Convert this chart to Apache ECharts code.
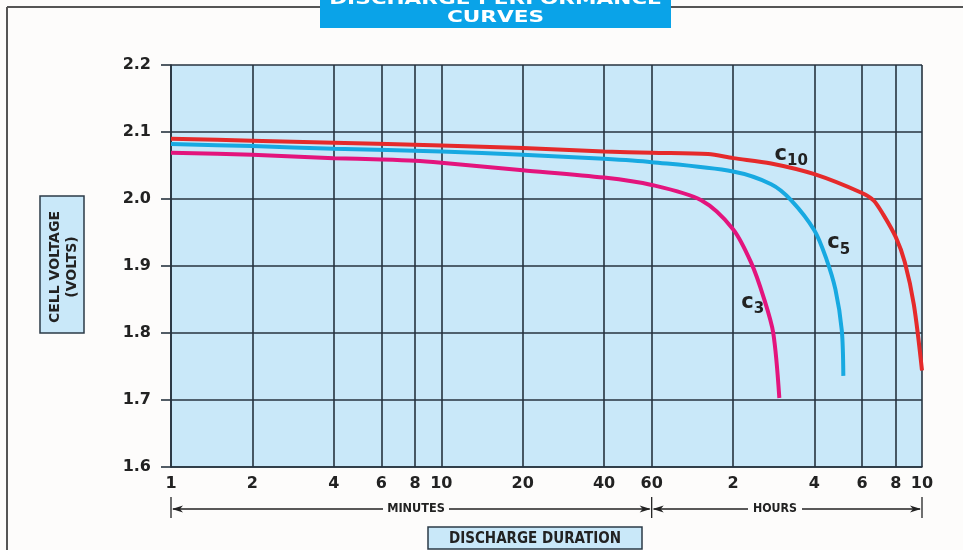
<!DOCTYPE html>
<html>
<head>
<meta charset="utf-8">
<script src="https://cdn.jsdelivr.net/npm/echarts@6/dist/echarts.min.js"></script>
<style>
html,body{margin:0;padding:0;background:#fdfcfb;}
#chart{width:963px;height:550px;}
</style>
</head>
<body>
<div id="chart"></div>
<script>
// ---- data (x in minutes, y in volts) ----
const xTickMinutes = [1, 2, 4, 6, 8, 10, 20, 40, 60, 120, 240, 360, 480, 600];
const xTickLabels  = ['1','2','4','6','8','10','20','40','60','2','4','6','8','10'];
const yMin = 1.6, yMax = 2.2, yStep = 0.1;

const c10Minutes = [1, 2, 4, 10, 20, 40, 60, 97, 120, 166, 240, 360, 397, 431, 480, 518, 560, 600];
const c10Volts   = [2.090, 2.087, 2.084, 2.080, 2.076, 2.071, 2.069, 2.067, 2.061, 2.053, 2.037, 2.009, 1.998, 1.977, 1.943, 1.906, 1.842, 1.744];

const c5Minutes = [1, 2, 4, 10, 20, 40, 60, 120, 166, 197, 240, 266, 287, 303, 307];
const c5Volts   = [2.082, 2.079, 2.075, 2.071, 2.066, 2.060, 2.055, 2.041, 2.022, 1.998, 1.953, 1.910, 1.865, 1.804, 1.736];

const c3Minutes = [1, 2, 4, 6, 8, 10, 20, 40, 60, 91.5, 120, 140, 156, 169, 178];
const c3Volts   = [2.069, 2.066, 2.061, 2.059, 2.057, 2.054, 2.043, 2.032, 2.021, 1.998, 1.955, 1.905, 1.852, 1.800, 1.703];

const curveNames  = ['C10', 'C5', 'C3'];
const curveSubs   = ['10', '5', '3'];
const labelMinutes = [197, 295, 142];
const labelVolts   = [2.066, 1.934, 1.845];

const titleLines = ['DISCHARGE PERFORMANCE', 'CURVES'];
const yTitleLines = ['CELL VOLTAGE', '(VOLTS)'];
const xTitle = 'DISCHARGE DURATION';
const minutesText = 'MINUTES';
const hoursText = 'HOURS';

// ---- build ----
const L = Math.log10;
const toPts = (xs, ys) => xs.map((m, i) => [L(m), ys[i]]);
const colors = ['#e52a2b', '#17a9e1', '#e3147d'];
const gridColor = '#26333f';
const font = '"DejaVu Sans", sans-serif';
const seriesData = [toPts(c10Minutes, c10Volts), toPts(c5Minutes, c5Volts), toPts(c3Minutes, c3Volts)];

const chart = echarts.init(document.getElementById('chart'));

const series = seriesData.map((d, i) => ({
  name: curveNames[i],
  type: 'line',
  data: d,
  smooth: 0.3,
  showSymbol: false,
  symbol: 'none',
  lineStyle: { color: colors[i], width: 4 },
  itemStyle: { color: colors[i] },
  z: 3,
  markPoint: {
    symbol: 'circle',
    symbolSize: 1,
    itemStyle: { color: 'rgba(0,0,0,0)' },
    label: {
      show: true,
      position: 'inside',
      formatter: '{a|c}{b|' + curveSubs[i] + '}',
      rich: {
        a: { fontFamily: font, fontWeight: 'bold', fontSize: 21, color: '#222', lineHeight: 28, verticalAlign: 'bottom', padding: [0, 0, 4, 0] },
        b: { fontFamily: font, fontWeight: 'bold', fontSize: 15, color: '#222', lineHeight: 28, verticalAlign: 'bottom' }
      }
    },
    data: [{ coord: [L(labelMinutes[i]), labelVolts[i]] }]
  }
}));

const tickLog = xTickMinutes.map(L);

chart.setOption({
  backgroundColor: '#fdfcfb',
  animation: false,
  grid: { left: 171, right: 41, top: 65, bottom: 83, show: true, backgroundColor: '#c9e8f9', borderWidth: 0 },
  xAxis: {
    type: 'value',
    min: 0,
    max: L(600),
    axisLine: { show: true, lineStyle: { color: gridColor, width: 1.6 } },
    axisTick: { show: false, customValues: tickLog },
    splitLine: { show: true, lineStyle: { color: gridColor, width: 1.6 } },
    axisLabel: {
      customValues: tickLog,
      margin: 9,
      color: '#222',
      fontFamily: font,
      fontWeight: 'bold',
      fontSize: 16,
      formatter: function (v) {
        let best = 0, bd = Infinity;
        tickLog.forEach((t, k) => { const d = Math.abs(t - v); if (d < bd) { bd = d; best = k; } });
        return xTickLabels[best];
      }
    }
  },
  yAxis: {
    type: 'value',
    min: yMin,
    max: yMax,
    interval: yStep,
    axisLine: { show: true, lineStyle: { color: gridColor, width: 1.6 } },
    axisTick: { show: true, inside: false, length: 10, lineStyle: { color: gridColor, width: 1.6 } },
    splitLine: { show: true, lineStyle: { color: gridColor, width: 1.6 } },
    axisLabel: {
      margin: 20,
      color: '#222',
      fontFamily: font,
      fontWeight: 'bold',
      fontSize: 16,
      formatter: v => v.toFixed(1)
    }
  },
  series: series
});

// ---- decorations positioned from axis values ----
const px = (m, v) => chart.convertToPixel({ gridIndex: 0 }, [L(m), v]);
const p1 = px(1, yMin), p60 = px(60, yMin), p600 = px(600, yMin);
const arrowY = 509;
const lineStyle = { stroke: '#222', lineWidth: 1.3 };
const g = [];

// outer frame
g.push({ type: 'line', shape: { x1: 7, y1: 7, x2: 7, y2: 550 }, style: { stroke: '#555', lineWidth: 2 } });
g.push({ type: 'line', shape: { x1: 7, y1: 7, x2: 963, y2: 7 }, style: { stroke: '#555', lineWidth: 2 } });

// title box
g.push({ type: 'rect', shape: { x: 320, y: -12, width: 351, height: 40 }, style: { fill: '#0aa3e8' }, z: 10 });
g.push({ type: 'text', x: 495.5, y: 0, scaleX: 1.35, z: 11,
  style: { text: titleLines[0], fill: '#fff', font: 'bold 16px ' + font, textAlign: 'center', textVerticalAlign: 'middle' } });
g.push({ type: 'text', x: 495.5, y: 18, scaleX: 1.35, z: 11,
  style: { text: titleLines[1], fill: '#fff', font: 'bold 16px ' + font, textAlign: 'center', textVerticalAlign: 'middle' } });

// y title box
g.push({ type: 'rect', shape: { x: 40, y: 196, width: 44, height: 137 }, style: { fill: '#c9e8f9', stroke: '#2b3a47', lineWidth: 1.5 } });
g.push({ type: 'text', x: 55, y: 267, rotation: Math.PI / 2,
  style: { text: yTitleLines[0], fill: '#222', font: 'bold 14px ' + font, textAlign: 'center', textVerticalAlign: 'middle' } });
g.push({ type: 'text', x: 72, y: 267, rotation: Math.PI / 2,
  style: { text: yTitleLines[1], fill: '#222', font: 'bold 14px ' + font, textAlign: 'center', textVerticalAlign: 'middle' } });

// x title box
g.push({ type: 'rect', shape: { x: 428, y: 527, width: 214, height: 22 }, style: { fill: '#c9e8f9', stroke: '#2b3a47', lineWidth: 1.5 } });
g.push({ type: 'text', x: 535, y: 539, scaleX: 0.9,
  style: { text: xTitle, fill: '#222', font: 'bold 15px ' + font, textAlign: 'center', textVerticalAlign: 'middle' } });

// range arrows
function arrowHead(x, dir) {
  return { type: 'polygon', shape: { points: [[x, arrowY], [x - dir * 11, arrowY - 3.5], [x - dir * 8, arrowY], [x - dir * 11, arrowY + 3.5]] }, style: { fill: '#222' } };
}
[p1[0], p60[0], p600[0]].forEach(x => {
  g.push({ type: 'line', shape: { x1: x, y1: 497, x2: x, y2: 518 }, style: lineStyle });
});
const minC = 416, hrC = 775;
g.push({ type: 'line', shape: { x1: p1[0] + 2, y1: arrowY, x2: minC - 33, y2: arrowY }, style: lineStyle });
g.push({ type: 'line', shape: { x1: minC + 33, y1: arrowY, x2: p60[0] - 2, y2: arrowY }, style: lineStyle });
g.push(arrowHead(p1[0] + 1, -1));
g.push(arrowHead(p60[0] - 1, 1));
g.push({ type: 'text', x: minC, y: arrowY, scaleX: 0.87,
  style: { text: minutesText, fill: '#222', font: 'bold 13px ' + font, textAlign: 'center', textVerticalAlign: 'middle' } });
g.push({ type: 'line', shape: { x1: p60[0] + 2, y1: arrowY, x2: hrC - 27, y2: arrowY }, style: lineStyle });
g.push({ type: 'line', shape: { x1: hrC + 27, y1: arrowY, x2: p600[0] - 2, y2: arrowY }, style: lineStyle });
g.push(arrowHead(p60[0] + 1, -1));
g.push(arrowHead(p600[0] - 1, 1));
g.push({ type: 'text', x: hrC, y: arrowY, scaleX: 0.85,
  style: { text: hoursText, fill: '#222', font: 'bold 13px ' + font, textAlign: 'center', textVerticalAlign: 'middle' } });

chart.setOption({ graphic: { elements: g } });
</script>
</body>
</html>
